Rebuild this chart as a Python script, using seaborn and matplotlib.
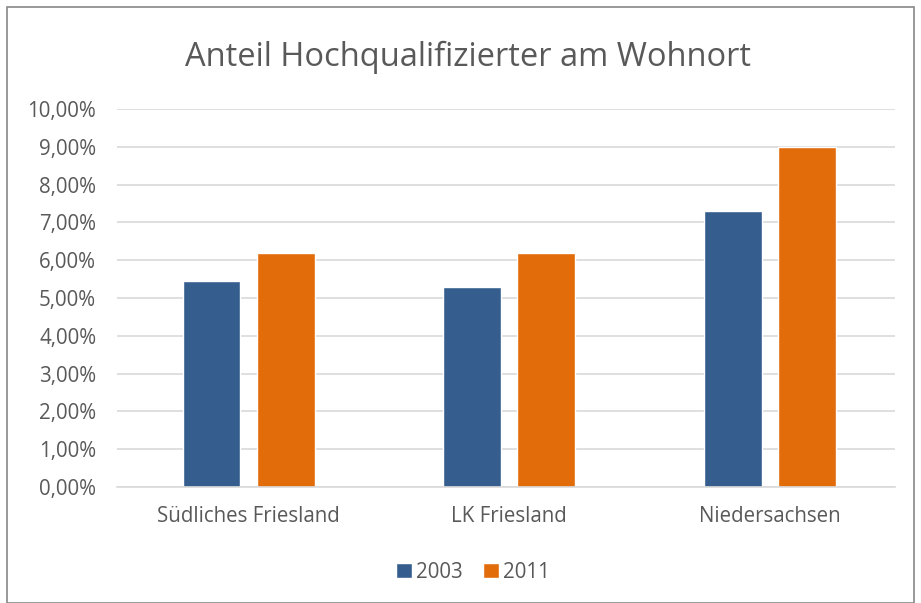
import matplotlib
matplotlib.use("Agg")
import matplotlib.pyplot as plt
import seaborn as sns
import pandas as pd
from matplotlib.patches import Rectangle
from matplotlib.ticker import FuncFormatter

categories = ["Südliches Friesland", "LK Friesland", "Niedersachsen"]
years = ["2003", "2011"]
values_2003 = [5.45, 5.30, 7.29]
values_2011 = [6.20, 6.18, 9.00]
title = "Anteil Hochqualifizierter am Wohnort"

df = pd.DataFrame({
    "Region": categories * 2,
    "Jahr": [years[0]] * 3 + [years[1]] * 3,
    "Wert": values_2003 + values_2011,
})

sns.set_theme(style="white")
plt.rcParams["font.family"] = ["Open Sans", "DejaVu Sans"]

text_color = "#595959"
palette = {"2003": "#355E8E", "2011": "#E36C0A"}

fig = plt.figure(figsize=(9.21, 6.03), dpi=100)
ax = fig.add_axes([117 / 921, 1 - 487 / 603, (895 - 117) / 921, (487 - 109) / 603])

sns.barplot(data=df, x="Region", y="Wert", hue="Jahr", palette=palette,
            width=0.57, gap=0.22, ax=ax, saturation=1, legend=True)

ax.set_ylim(0, 10)
ax.set_xlim(-0.505, 2.48)
ax.set_yticks(range(0, 11))
ax.yaxis.set_major_formatter(FuncFormatter(lambda v, p: f"{v:.2f}".replace(".", ",") + "%"))
ax.grid(axis="y", color="#D9D9D9", linewidth=1.2)
ax.set_axisbelow(True)
for s in ["top", "right", "left"]:
    ax.spines[s].set_visible(False)
ax.spines["bottom"].set_color("#D9D9D9")
ax.spines["bottom"].set_linewidth(1.2)
ax.tick_params(axis="both", length=0, colors=text_color, labelsize=14.8)
ax.tick_params(axis="y", pad=15)
ax.tick_params(axis="x", pad=14)
ax.set_xlabel("")
ax.set_ylabel("")

fig.text(468 / 921, 1 - 57 / 603, title, ha="center", va="center",
         fontsize=23.5, color=text_color)

handles, labels = ax.get_legend_handles_labels()
ax.legend_.remove()
fig.legend(handles, labels, loc="center", bbox_to_anchor=(473 / 921, 1 - 572 / 603),
           ncol=2, frameon=False, fontsize=14.8, labelcolor=text_color,
           handlelength=0.75, handleheight=0.75, handletextpad=0.2, columnspacing=1.0)

fig.patches.append(Rectangle((7 / 921, 0.0), (914 - 7) / 921, 1 - 7 / 603,
                             transform=fig.transFigure, fill=False,
                             edgecolor="#888888", linewidth=1.2))

fig.savefig("out.png", dpi=100, facecolor="white")
